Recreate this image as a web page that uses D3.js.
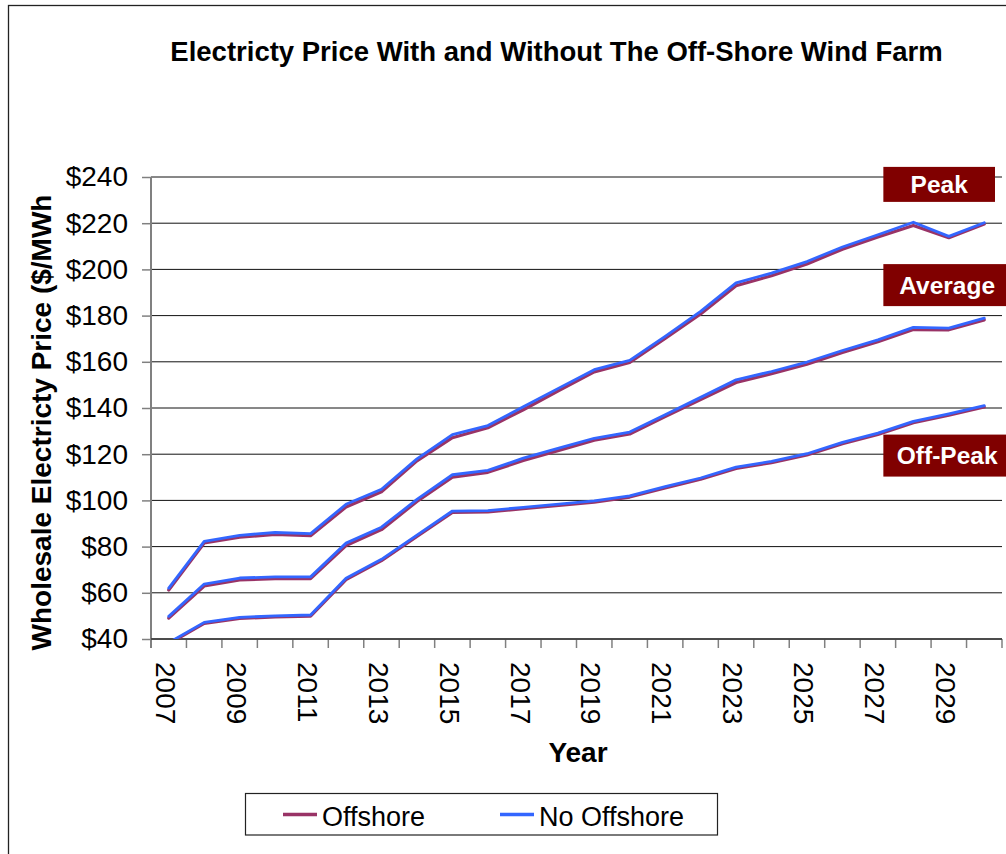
<!DOCTYPE html>
<html>
<head>
<meta charset="utf-8">
<script src="https://cdn.jsdelivr.net/npm/d3@7"></script>
<style>
  html, body { margin: 0; padding: 0; background: #fff; }
  svg { display: block; font-family: "Liberation Sans", Arial, sans-serif; }
</style>
</head>
<body>
<svg id="chart" width="1006" height="854"></svg>
<script>
// ---------- data ----------
const years = d3.range(2007, 2031);
const yTicks = [40, 60, 80, 100, 120, 140, 160, 180, 200, 220, 240];
const xTickLabels = [2007, 2009, 2011, 2013, 2015, 2017, 2019, 2021, 2023, 2025, 2027, 2029];
const seriesNames = ["Offshore", "No Offshore"];
const seriesColors = ["#993366", "#3366FF"];

const peakNoOffshore = [62.0, 82.3, 84.9, 86.1, 85.6, 98.3, 104.8, 118.0, 128.5, 132.4, 140.5, 148.6, 156.6, 160.6, 171.0, 181.8, 194.2, 198.4, 203.4, 209.7, 215.0, 220.4, 214.3, 220.2];
const peakOffshore   = [61.5, 81.8, 84.3, 85.5, 85.0, 97.4, 104.0, 117.4, 127.4, 131.7, 139.5, 147.8, 155.9, 160.0, 170.4, 181.0, 193.2, 197.5, 202.6, 209.0, 214.3, 219.3, 214.0, 219.9];
const avgNoOffshore  = [49.8, 63.8, 66.4, 66.9, 66.9, 81.5, 88.4, 100.4, 111.1, 113.0, 118.3, 122.6, 126.9, 129.6, 137.1, 144.6, 152.2, 155.8, 159.9, 164.9, 169.5, 174.9, 174.6, 178.9];
const avgOffshore    = [49.3, 63.2, 65.8, 66.4, 66.4, 80.7, 87.6, 99.8, 110.3, 112.4, 117.5, 121.9, 126.3, 129.0, 136.5, 143.9, 151.3, 155.1, 159.2, 164.3, 168.9, 174.2, 174.1, 178.4];
const offPkNoOffshore = [38.4, 47.2, 49.4, 50.0, 50.4, 66.3, 74.5, 85.0, 95.4, 95.6, 97.0, 98.4, 99.8, 102.0, 106.0, 109.7, 114.4, 116.9, 120.2, 125.1, 129.1, 134.2, 137.5, 141.0];
const offPkOffshore   = [38.2, 47.0, 49.2, 49.8, 50.2, 66.0, 74.2, 84.7, 95.1, 95.3, 96.7, 98.1, 99.5, 101.7, 105.7, 109.4, 114.1, 116.6, 119.9, 124.8, 128.8, 133.9, 137.2, 140.7];

// annotation labels: text, anchor year and value (box centre)
const annoTexts = ["Peak", "Average", "Off-Peak"];
const annoValues = [236.8, 193.2, 119.4];

// ---------- layout ----------
const svg = d3.select("#chart");
const L = 151, R = 1002, T = 177, B = 639;
const font = '"Liberation Sans", Arial, sans-serif';

const x = d3.scaleBand().domain(years).range([L, R]).padding(0);
const xc = d => x(d) + x.bandwidth() / 2;
const y = d3.scaleLinear().domain([40, 240]).range([B, T]);

// outer border
svg.append("rect").attr("x", 8.5).attr("y", 5.5).attr("width", 1010).attr("height", 870)
  .attr("fill", "none").attr("stroke", "#222").attr("stroke-width", 1.3);

// title
svg.append("text").attr("x", 556.5).attr("y", 60.5).attr("text-anchor", "middle")
  .attr("font-weight", "bold").attr("font-size", 27.5).attr("fill", "#000")
  .text("Electricty Price With and Without The Off-Shore Wind Farm");

// gridlines
svg.append("g").selectAll("line").data(yTicks).join("line")
  .attr("x1", L).attr("x2", R).attr("y1", d => y(d)).attr("y2", d => y(d))
  .attr("stroke", "#111").attr("stroke-width", 1);

// y axis
const yAxis = svg.append("g").attr("transform", `translate(${L},0)`)
  .call(d3.axisLeft(y).tickValues(yTicks).tickFormat(d => "$" + d).tickSize(9).tickSizeOuter(0).tickPadding(14));
yAxis.select(".domain").remove();
yAxis.selectAll(".tick line").attr("stroke", "#808080").attr("stroke-width", 1.5);
yAxis.selectAll(".tick text").attr("font-family", font).attr("font-size", 28).attr("fill", "#000");
svg.append("line").attr("x1", L).attr("x2", L).attr("y1", T).attr("y2", B + 9)
  .attr("stroke", "#808080").attr("stroke-width", 2);

// x axis ticks at category boundaries
const boundaries = years.map(d => x(d)).concat([R]);
svg.append("g").selectAll("line").data(boundaries).join("line")
  .attr("x1", d => d).attr("x2", d => d).attr("y1", B).attr("y2", B + 9)
  .attr("stroke", "#808080").attr("stroke-width", 1.5);
svg.append("line").attr("x1", L).attr("x2", R).attr("y1", B).attr("y2", B)
  .attr("stroke", "#111").attr("stroke-width", 1.2);

// x tick labels (rotated)
svg.append("g").selectAll("text").data(xTickLabels).join("text")
  .attr("transform", d => `translate(${xc(d) - 3},662) rotate(90)`)
  .attr("text-anchor", "start").attr("dy", "0.35em")
  .attr("font-size", 28).attr("fill", "#000").text(d => d);

// axis titles
svg.append("text").attr("x", 578).attr("y", 762).attr("text-anchor", "middle")
  .attr("font-weight", "bold").attr("font-size", 28).text("Year");
svg.append("text").attr("transform", "translate(50.5,422.5) rotate(-90)")
  .attr("text-anchor", "middle").attr("font-weight", "bold").attr("font-size", 28)
  .text("Wholesale Electricty Price ($/MWh");

// clip
svg.append("clipPath").attr("id", "plotclip").append("rect")
  .attr("x", L).attr("y", T - 10).attr("width", R - L + 10).attr("height", B - T + 10);

// lines
const line = d3.line().x((d, i) => xc(years[i])).y(d => y(d));
const groups = [
  [peakOffshore, peakNoOffshore],
  [avgOffshore, avgNoOffshore],
  [offPkOffshore, offPkNoOffshore]
];
const lg = svg.append("g").attr("clip-path", "url(#plotclip)");
// draw offshore series first, then no-offshore on top
[0, 1].forEach(si => {
  groups.forEach(g => {
    lg.append("path").datum(g[si]).attr("d", line)
      .attr("fill", "none").attr("stroke", seriesColors[si])
      .attr("stroke-width", si === 0 ? 3.2 : 2.8)
      .attr("stroke-linejoin", "round").attr("stroke-linecap", "round")
      .attr("transform", si === 0 ? "translate(0,0.6)" : null);
  });
});

// annotation boxes
const annoG = svg.append("g");
annoTexts.forEach((t, i) => {
  const cy = y(annoValues[i]);
  const h = i === 0 ? 35 : 42;
  const left = xc(2028) - 30;
  const right = i === 0 ? 995 : 1011;
  annoG.append("rect").attr("x", left).attr("y", cy - h / 2).attr("width", right - left).attr("height", h)
    .attr("fill", "#800000");
  annoG.append("text").attr("x", (left + right) / 2).attr("y", cy).attr("dy", "0.36em")
    .attr("text-anchor", "middle").attr("font-weight", "bold").attr("font-size", 24.5)
    .attr("fill", "#fff").text(t);
});

// legend
const leg = svg.append("g");
leg.append("rect").attr("x", 245.5).attr("y", 793.5).attr("width", 472).attr("height", 41.5)
  .attr("fill", "#fff").attr("stroke", "#222").attr("stroke-width", 1.2);
const legX = [283, 500];
seriesNames.forEach((n, i) => {
  leg.append("line").attr("x1", legX[i]).attr("x2", legX[i] + 34).attr("y1", 814.5).attr("y2", 814.5)
    .attr("stroke", seriesColors[i]).attr("stroke-width", 3.5);
  leg.append("text").attr("x", legX[i] + 39).attr("y", 825.5).attr("font-size", 27).attr("fill", "#000").text(n);
});
</script>
</body>
</html>
